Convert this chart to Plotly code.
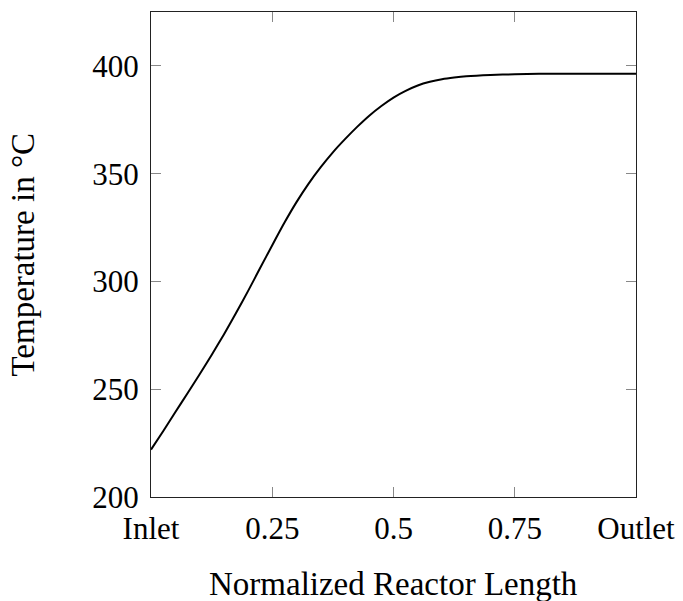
import plotly.graph_objects as go

x_pos = [0.0, 0.025, 0.05, 0.075, 0.1, 0.125, 0.15, 0.175, 0.2, 0.225, 0.25,
         0.275, 0.3, 0.325, 0.35, 0.375, 0.4, 0.425, 0.45, 0.475, 0.5, 0.525,
         0.55, 0.575, 0.6, 0.625, 0.65, 0.7, 0.75, 0.8, 0.9, 1.0]
temperature = [222.0, 230.5, 239.3, 248.0, 256.8, 265.9, 275.3, 285.2, 295.5,
               306.2, 316.8, 327.2, 336.8, 345.4, 353.0, 359.9, 366.0, 371.7,
               376.9, 381.4, 385.3, 388.4, 390.9, 392.6, 393.8, 394.6, 395.2,
               395.8, 396.1, 396.3, 396.4, 396.4]

x_tickvals = [0, 0.25, 0.5, 0.75, 1.0]
x_ticktext = ["Inlet", "0.25", "0.5", "0.75", "Outlet"]
y_tickvals = [200, 250, 300, 350, 400]
x_title = "Normalized Reactor Length"
y_title = "Temperature in °C"

FONT = "Liberation Serif"

fig = go.Figure()
fig.add_trace(go.Scatter(x=x_pos, y=temperature, mode="lines",
                         line=dict(color="black", width=2, shape="spline", smoothing=0.5),
                         showlegend=False))

fig.update_layout(
    width=683, height=601,
    margin=dict(l=151, r=47, t=12, b=104),
    paper_bgcolor="white", plot_bgcolor="white",
    font=dict(family=FONT, size=31, color="black"),
    xaxis=dict(range=[0, 1], tickvals=x_tickvals, ticktext=x_ticktext,
               ticks="inside", ticklen=10, tickcolor="#888888", tickwidth=1,
               showline=True, linecolor="#222222", linewidth=1.2, mirror="ticks",
               showgrid=False, zeroline=False, ticklabelstandoff=4,
               automargin=False),
    yaxis=dict(range=[200, 425], tickvals=y_tickvals,
               ticks="inside", ticklen=10, tickcolor="#888888", tickwidth=1,
               showline=True, linecolor="#222222", linewidth=1.2, mirror="ticks",
               showgrid=False, zeroline=False, ticklabelstandoff=5,
               automargin=False),
    annotations=[
        dict(text=x_title, xref="paper", yref="paper", x=0.5, y=0,
             xanchor="center", yanchor="middle", yshift=-87, showarrow=False,
             font=dict(family=FONT, size=33)),
        dict(text=y_title, xref="paper", yref="paper", x=0, y=0.5,
             xanchor="center", yanchor="middle", xshift=-129, textangle=-90,
             showarrow=False, font=dict(family=FONT, size=33)),
    ],
)

fig.write_html("out.html")
